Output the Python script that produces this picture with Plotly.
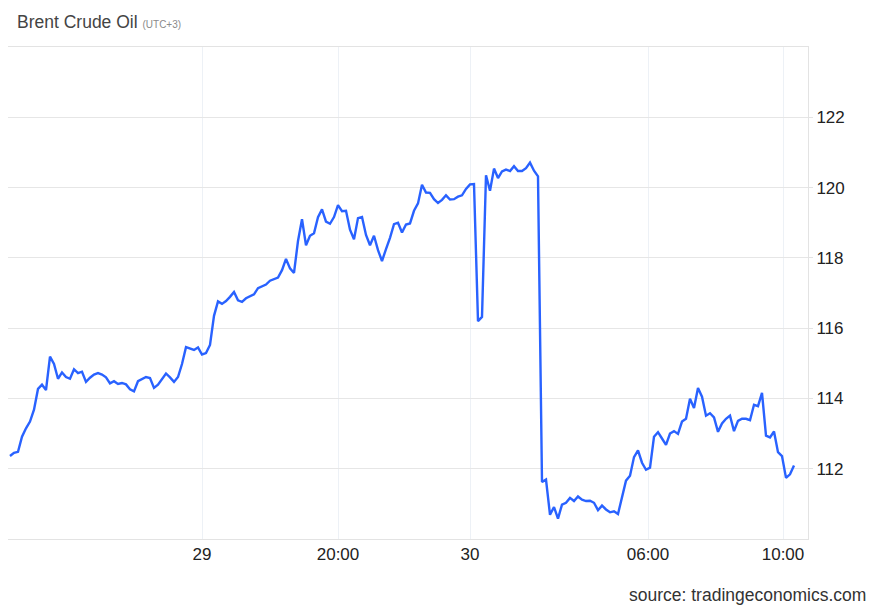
import plotly.graph_objects as go

# Brent crude oil intraday prices (ordinal sample positions, equally spaced)
prices = [
    112.36, 112.45, 112.48, 112.91, 113.15, 113.34, 113.68, 114.27, 114.39, 114.24,
    115.19, 114.98, 114.56, 114.74, 114.61, 114.56, 114.83, 114.72, 114.76, 114.47,
    114.59, 114.68, 114.72, 114.68, 114.60, 114.43, 114.49, 114.41, 114.44, 114.40,
    114.26, 114.20, 114.49, 114.54, 114.61, 114.58, 114.30, 114.39, 114.56, 114.71,
    114.60, 114.47, 114.61, 114.98, 115.46, 115.41, 115.38, 115.45, 115.25, 115.29,
    115.52, 116.35, 116.76, 116.69, 116.77, 116.89, 117.03, 116.79, 116.75, 116.85,
    116.91, 116.96, 117.14, 117.20, 117.24, 117.35, 117.40, 117.44, 117.65, 117.97,
    117.70, 117.57, 118.48, 119.10, 118.36, 118.63, 118.70, 119.16, 119.38, 119.03,
    118.97, 119.16, 119.50, 119.33, 119.34, 118.80, 118.53, 119.13, 119.16, 118.65,
    118.36, 118.63, 118.22, 117.91, 118.25, 118.57, 118.96, 119.00, 118.72, 118.95,
    118.98, 119.34, 119.55, 120.08, 119.86, 119.85, 119.67, 119.56, 119.65, 119.78,
    119.66, 119.67, 119.74, 119.78, 119.96, 120.09, 120.10, 116.20, 116.32, 120.35,
    119.91, 120.54, 120.27, 120.46, 120.51, 120.47, 120.61, 120.47, 120.47, 120.55,
    120.71, 120.48, 120.32, 111.62, 111.69, 110.69, 110.91, 110.58, 110.98, 111.03,
    111.17, 111.08, 111.21, 111.12, 111.08, 111.09, 111.03, 110.82, 110.95, 110.84,
    110.76, 110.79, 110.71, 111.19, 111.66, 111.80, 112.33, 112.52, 112.17, 111.97,
    112.03, 112.91, 113.04, 112.86, 112.68, 113.00, 113.07, 112.99, 113.34, 113.42,
    113.99, 113.73, 114.30, 114.05, 113.51, 113.58, 113.46, 113.05, 113.29, 113.42,
    113.51, 113.07, 113.36, 113.42, 113.42, 113.38, 113.82, 113.78, 114.16, 112.94,
    112.89, 113.06, 112.47, 112.36, 111.74, 111.84, 112.09,
]
positions = list(range(len(prices)))

x_tick_positions = [48, 82, 115, 159.5, 193.25]
x_tick_labels = ["29", "20:00", "30", "06:00", "10:00"]
y_tick_values = [112, 114, 116, 118, 120, 122]

FONT = "Arial, Liberation Sans, sans-serif"

fig = go.Figure()
fig.add_trace(go.Scatter(
    x=positions, y=prices, mode="lines",
    line=dict(color="#2962FF", width=2.4),
    hoverinfo="y", showlegend=False,
))

fig.update_layout(
    width=880, height=610,
    margin=dict(l=8, r=72, t=47, b=71),
    paper_bgcolor="white", plot_bgcolor="white",
    font=dict(family=FONT, color="#222222", size=16),
    title=dict(
        text="Brent Crude Oil <span style='font-size:10px;color:#8a8a8a'>(UTC+3)</span>",
        x=17 / 880, xref="container", xanchor="left",
        y=1 - 22 / 610, yref="container", yanchor="middle",
        font=dict(family=FONT, size=17.5, color="#444444"),
    ),
    xaxis=dict(
        range=[-0.5, 199.5],
        tickmode="array", tickvals=x_tick_positions, ticktext=x_tick_labels,
        showgrid=True, gridcolor="#edf1f6", gridwidth=1,
        showline=True, linecolor="#e3e3e3", linewidth=1, mirror=True,
        ticks="", zeroline=False,
        tickfont=dict(size=17, color="#222222"),
    ),
    yaxis=dict(
        range=[110, 124], side="right",
        tickmode="array", tickvals=y_tick_values,
        showgrid=True, gridcolor="#e6e6e6", gridwidth=1,
        showline=True, linecolor="#e3e3e3", linewidth=1,
        ticks="outside", ticklen=4, tickcolor="#e3e3e3",
        zeroline=False,
        tickfont=dict(size=17, color="#222222"),
    ),
    annotations=[dict(
        text="source: tradingeconomics.com",
        xref="paper", yref="paper", x=(868 - 8) / 800, y=(539.4 - 595) / 492,
        xanchor="right", yanchor="middle", showarrow=False,
        font=dict(family=FONT, size=17.5, color="#333333"),
    )],
)

fig.write_html(
    "out.html",
    config={"displayModeBar": False},
    post_script="document.body.style.margin='0';document.body.style.padding='0';",
)
